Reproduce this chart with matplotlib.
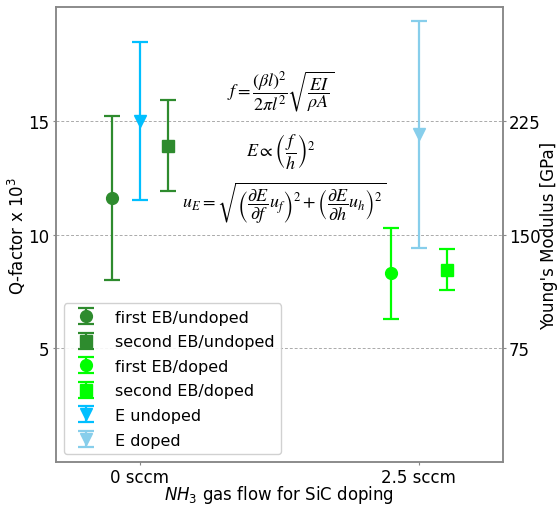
import matplotlib
matplotlib.use("Agg")
import matplotlib.pyplot as plt

plt.rcParams.update({
    "font.family": "DejaVu Sans",
    "font.size": 12,
    "mathtext.fontset": "dejavusans",
})

# data
groups = ["0 sccm", "2.5 sccm"]
q_first = [11.6, 8.3]
q_first_err = [3.6, 2.0]
q_second = [13.9, 8.45]
q_second_err = [2.0, 0.9]
e_mod = [225, 216]
e_mod_err = [52, 75]

C_UND = "#2e8b2e"
C_DOP = "#00ff00"
C_EU = "#00bfff"
C_ED = "#87ceeb"
C_SPINE = "#888888"

fig = plt.figure(figsize=(5.57, 5.06), dpi=100)
ax = fig.add_axes([0.1005, 0.085, 0.802, 0.899])
ax2 = ax.twinx()

x = [0, 1]
off = 0.1
kw = dict(capsize=5.5, elinewidth=1.6, capthick=1.6, markersize=8.5, linestyle="none")

ax.errorbar(x[0] - off, q_first[0], yerr=q_first_err[0], fmt="o", color=C_UND,
            label="first EB/undoped", **kw)
ax.errorbar(x[0] + off, q_second[0], yerr=q_second_err[0], fmt="s", color=C_UND,
            label="second EB/undoped", **kw)
ax.errorbar(x[1] - off, q_first[1], yerr=q_first_err[1], fmt="o", color=C_DOP,
            label="first EB/doped", **kw)
ax.errorbar(x[1] + off, q_second[1], yerr=q_second_err[1], fmt="s", color=C_DOP,
            label="second EB/doped", **kw)
h1 = ax2.errorbar(x[0], e_mod[0], yerr=e_mod_err[0], fmt="v", color=C_EU,
                  label="E undoped", **kw)
h2 = ax2.errorbar(x[1], e_mod[1], yerr=e_mod_err[1], fmt="v", color=C_ED,
                  label="E doped", **kw)

ax.set_xlim(-0.3, 1.3)
ax.set_ylim(0, 20)
ax2.set_ylim(0, 300)
ax.set_xticks(x)
ax.set_xticklabels(groups)
ax.set_yticks([5, 10, 15])
ax2.set_yticks([75, 150, 225])
ax.grid(axis="y", linestyle=(0, (3, 2)), color="#aaaaaa", linewidth=0.7)
ax.set_axisbelow(True)

ax.set_ylabel(r"Q-factor x 10$^3$", va="center")
ax.yaxis.set_label_coords(-0.087, 0.5)
ax2.set_ylabel("Young's Modulus [GPa]", va="center")
ax2.yaxis.set_label_coords(1.103, 0.5)
ax.set_xlabel(r"$NH_3$ gas flow for SiC doping", va="center")
ax.xaxis.set_label_coords(0.5, -0.071)

for a in (ax, ax2):
    for s in a.spines.values():
        s.set_color(C_SPINE)
        s.set_linewidth(1.1)
    a.tick_params(color=C_SPINE, length=2, pad=2.5)

# formulas
mk = dict(transform=ax.transAxes, ha="center", va="center", fontsize=13,
          math_fontfamily="stix")
ax.text(0.503, 0.815, r"$f=\dfrac{(\beta l)^2}{2\pi l^2}\sqrt{\dfrac{EI}{\rho A}}$", **mk)
ax.text(0.503, 0.684, r"$E\propto\left(\dfrac{f}{h}\right)^2$", **mk)
ax.text(0.51, 0.571,
        r"$u_E=\sqrt{\left(\dfrac{\partial E}{\partial f}u_f\right)^2+\left(\dfrac{\partial E}{\partial h}u_h\right)^2}$",
        **mk)

hs, ls = ax.get_legend_handles_labels()
hs += [h1, h2]
ls += ["E undoped", "E doped"]
ax.legend(hs, ls, loc="lower left", fontsize=11.5, labelspacing=0.6,
          framealpha=0.9, borderaxespad=0.5)

fig.savefig("out.png", dpi=100)
